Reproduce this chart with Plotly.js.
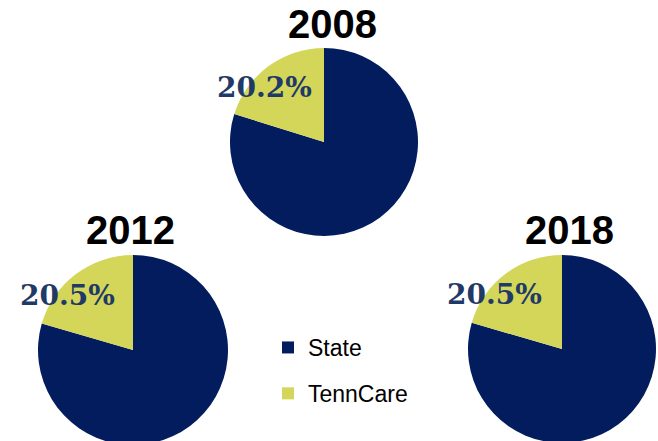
<!DOCTYPE html>
<html>
<head>
<meta charset="utf-8">
<script src="https://cdn.plot.ly/plotly-3.0.1.min.js"></script>
<style>
html,body{margin:0;padding:0;overflow:hidden;background:#fff;}
#chart{width:658px;height:445px;}
</style>
</head>
<body>
<div id="chart"></div>
<script>
// ---- data ----
const years = ['2008', '2012', '2018'];
const categories = ['State', 'TennCare'];
const stateShare = [79.8, 79.5, 79.5];
const tennCareShare = [20.2, 20.5, 20.5];
const legendOrder = ['State', 'TennCare'];

// ---- styling / layout ----
const W = 658, H = 445;
const colorMap = {State: '#021c5e', TennCare: '#d4d65a'};
const labelColor = '#1f3a66';
// pie placement in pixels: [left, top, size]
const boxes = [[230, 48, 188], [38, 255, 190], [468, 255, 188]];
const labelOffset = [[-60, -55], [-66, -55], [-68, -55]];
const titleOffset = [[8, -118], [-3, -120], [7, -119]];

const traces = [];
const annotations = [];
years.forEach((yr, i) => {
  const [l, t, s] = boxes[i];
  traces.push({
    type: 'pie',
    labels: categories,
    values: [stateShare[i], tennCareShare[i]],
    sort: false,
    direction: 'clockwise',
    rotation: 0,
    textinfo: 'none',
    showlegend: false,
    marker: {colors: categories.map(c => colorMap[c]), line: {width: 0}},
    domain: {x: [l / W, (l + s) / W], y: [Math.max(0, (H - t - s) / H), (H - t) / H]}
  });
  const cx = l + s / 2, cy = t + s / 2;
  annotations.push({
    xref: 'paper', yref: 'paper',
    x: (cx + labelOffset[i][0]) / W, y: 1 - (cy + labelOffset[i][1]) / H,
    xanchor: 'center', yanchor: 'middle', showarrow: false,
    text: '<b>' + tennCareShare[i].toFixed(1) + '%</b>',
    font: {family: 'DejaVu Serif, serif', size: 28, color: labelColor, weight: 'bold'}
  });
  annotations.push({
    xref: 'paper', yref: 'paper',
    x: (cx + titleOffset[i][0]) / W, y: 1 - (cy + titleOffset[i][1]) / H,
    xanchor: 'center', yanchor: 'middle', showarrow: false,
    text: yr,
    font: {family: 'Liberation Sans, Arial, sans-serif', size: 40, color: '#000', weight: 'bold'}
  });
});

// legend-only entries
legendOrder.forEach((c, k) => {
  traces.push({
    type: 'scatter', mode: 'markers', x: [null], y: [null],
    name: c, legendgroup: 'g' + k, showlegend: true,
    marker: {symbol: 'square', size: 12, color: colorMap[c]},
    hoverinfo: 'skip'
  });
});

const layout = {
  width: W, height: H,
  margin: {l: 0, r: 0, t: 0, b: 0},
  paper_bgcolor: '#fff', plot_bgcolor: '#fff',
  xaxis: {visible: false}, yaxis: {visible: false},
  showlegend: true,
  legend: {
    x: 268 / W, y: 1 - 326 / H, xanchor: 'left', yanchor: 'top',
    traceorder: 'grouped', tracegroupgap: 13,
    font: {family: 'Liberation Sans, Arial, sans-serif', size: 23, color: '#000'},
    bgcolor: 'rgba(0,0,0,0)'
  },
  annotations: annotations
};

Plotly.newPlot('chart', traces, layout, {displayModeBar: false, staticPlot: true});
</script>
</body>
</html>
